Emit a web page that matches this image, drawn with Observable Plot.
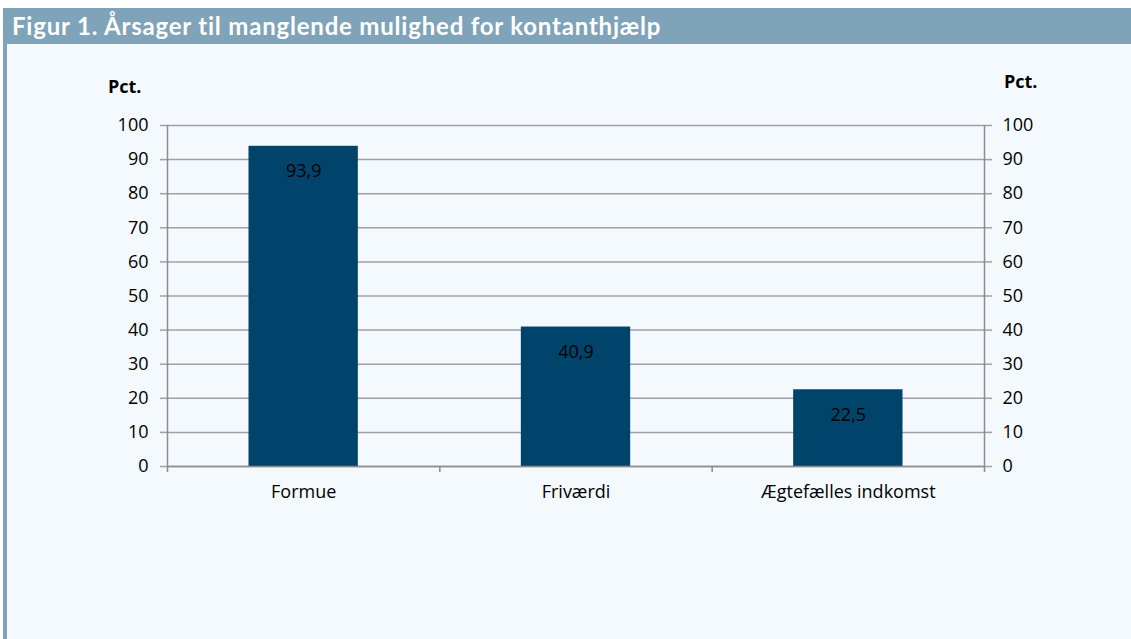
<!DOCTYPE html>
<html>
<head>
<meta charset="utf-8">
<script src="https://cdn.jsdelivr.net/npm/d3@7"></script>
<script src="https://cdn.jsdelivr.net/npm/@observablehq/plot@0.6"></script>
<style>
  html, body { margin: 0; padding: 0; background: #ffffff; }
  #page { position: relative; width: 1131px; height: 639px; overflow: hidden; background: #ffffff; }
  #panel { position: absolute; left: 3px; top: 8px; width: 1128px; height: 631px; background: #f4f9fe; }
  #leftbar { position: absolute; left: 3px; top: 8px; width: 4px; height: 631px; background: #7fa3b8; }
  #titlebar { position: absolute; left: 3px; top: 8px; width: 1128px; height: 36px; background: #7fa3b8; }
  #title { position: absolute; left: 12px; top: 11px; font-family: Lato, sans-serif; font-weight: bold; font-size: 24px; letter-spacing: 0.8px; color: #ffffff; white-space: nowrap; }
  .unit { position: absolute; font-family: "Open Sans", sans-serif; font-weight: bold; font-size: 18px; color: #000; }
  #chart { position: absolute; left: 0; top: 44px; }
</style>
</head>
<body>
<div id="page">
  <div id="panel"></div>
  <div id="leftbar"></div>
  <div id="titlebar"></div>
  <div id="title">Figur 1. Årsager til manglende mulighed for kontanthjælp</div>
  <div class="unit" style="left:108px; top:74px;">Pct.</div>
  <div class="unit" style="left:1004px; top:69px;">Pct.</div>
  <div id="chart"></div>
</div>
<script>
const categories = ["Formue", "Friværdi", "Ægtefælles indkomst"];
const values = [93.9, 40.9, 22.5];
const yTicks = [0, 10, 20, 30, 40, 50, 60, 70, 80, 90, 100];

const data = categories.map((c, i) => ({i, category: c, value: values[i]}));
const fmt = v => v.toFixed(1).replace(".", ",");
const font = '"Open Sans", sans-serif';

const chart = Plot.plot({
  width: 1131,
  height: 590,
  marginTop: 81,
  marginBottom: 168,
  marginLeft: 167,
  marginRight: 147,
  style: {background: "transparent", fontFamily: font, fontSize: "18px", color: "#000"},
  x: {type: "linear", domain: [0, categories.length]},
  y: {domain: [0, 100]},
  marks: [
    Plot.gridY(yTicks, {stroke: "#a0a0a0", strokeOpacity: 1, strokeWidth: 1.5}),
    Plot.axisY(yTicks, {anchor: "left", tickSize: 7, tickPadding: 12, label: null, stroke: "#a0a0a0", strokeWidth: 1.5, fill: "#000", fontSize: 18}),
    Plot.axisY(yTicks, {anchor: "right", tickSize: 7, tickPadding: 11, label: null, stroke: "#a0a0a0", strokeWidth: 1.5, fill: "#000", fontSize: 18}),
    Plot.ruleX([0, categories.length], {stroke: "#8c8c8c", strokeWidth: 1.5}),
    Plot.rectY(data, {x1: d => d.i, x2: d => d.i + 1, y: "value", fill: "#00446c", insetLeft: 81.5, insetRight: 81.5}),
    Plot.ruleY([0], {stroke: "#8c8c8c", strokeWidth: 1.5}),
    Plot.axisX(d3.range(categories.length + 1), {anchor: "bottom", tickSize: 6, tickFormat: () => "", label: null, stroke: "#8c8c8c", strokeWidth: 1.5}),
    Plot.axisX(data.map(d => d.i + 0.5), {anchor: "bottom", tickSize: 0, tickPadding: 19, tickFormat: (d) => categories[Math.floor(d)], label: null, fill: "#000", fontSize: 18}),
    Plot.text(data, {x: d => d.i + 0.5, y: "value", text: d => fmt(d.value), dy: 25, fill: "#000", fontSize: 18})
  ]
});
document.getElementById("chart").appendChild(chart);
</script>
</body>
</html>
